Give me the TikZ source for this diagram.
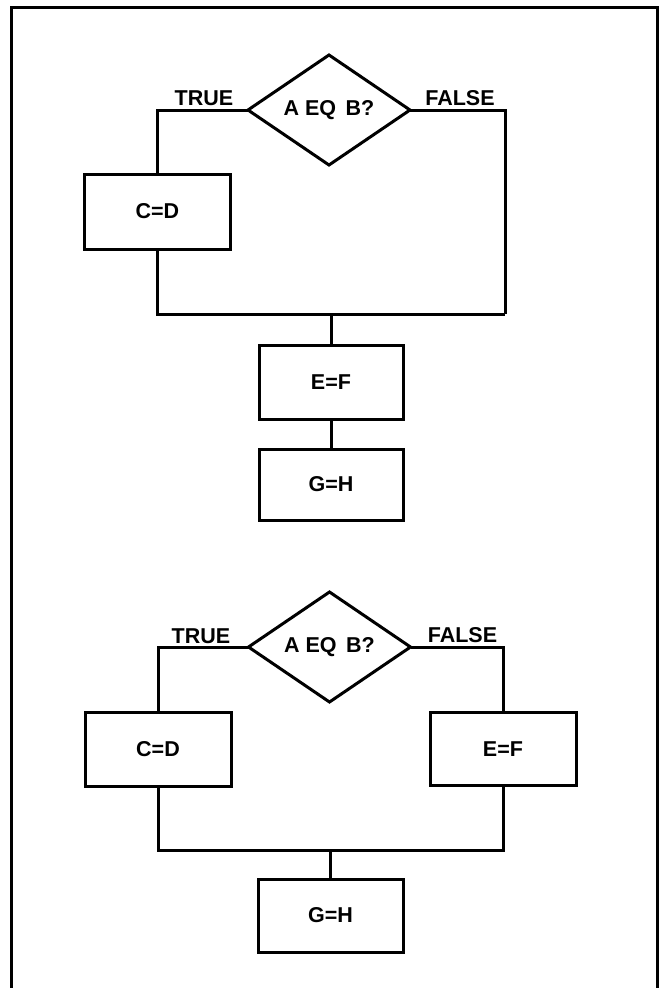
\documentclass[tikz,border=0pt]{standalone}
\usepackage{fontspec}
\setmainfont{Liberation Sans}
\usetikzlibrary{shapes.geometric}
\begin{document}
\begin{tikzpicture}[x=1pt,y=-1pt,
  line width=3pt, line join=miter,
  txt/.style={font=\fontsize{21.5}{25}\selectfont\bfseries},
  boxnode/.style={draw, rectangle, txt, inner sep=0pt, outer sep=0pt},
  decision/.style={draw, diamond, txt, inner sep=0pt, outer sep=0pt,
                   minimum width=162pt, minimum height=110pt},
  lbl/.style={txt, anchor=base, inner sep=0pt}]
\useasboundingbox (0,0) rectangle (660,988);
% frame
\coordinate (fa) at (11,988);
\coordinate (fb) at (11,7);
\coordinate (fc) at (657,7);
\coordinate (fd) at (657,988);
\draw (fa) -- (fb) -- (fc) -- (fd);

% ---------- upper diagram ----------
\node[decision] (d1) at (329,110) {A EQ\, B?};
\node[boxnode, minimum width=146.7pt, minimum height=75pt] (c1) at (157.4,211.5) {\raisebox{-3pt}{C=D}};
\node[boxnode, minimum width=144pt, minimum height=74pt] (e1) at (331,382) {\raisebox{-3pt}{E=F}};
\node[boxnode, minimum width=144pt, minimum height=71pt] (g1) at (331,484.5) {\raisebox{-2pt}{G=H}};
\node[lbl] (t1) at (204,105) {TRUE};
\node[lbl] (f1) at (460,105) {FALSE};
\coordinate (r1) at (505,314);
\draw (d1.west) -| (c1.north);
\draw (d1.east) -| (r1);
\draw (c1.south) |- (r1);
\draw (e1.north |- r1) -- (e1.north);
\draw (e1.south) -- (g1.north);

% ---------- lower diagram ----------
\node[decision] (d2) at (329.5,647) {A EQ\, B?};
\node[boxnode, minimum width=146pt, minimum height=74pt] (c2) at (158,749) {C=D};
\node[boxnode, minimum width=146pt, minimum height=73pt] (e2) at (503,749) {E=F};
\node[boxnode, minimum width=145pt, minimum height=73pt] (g2) at (330.5,915.5) {G=H};
\node[lbl] (t2) at (201,643) {TRUE};
\node[lbl] (f2) at (462.5,642) {FALSE};
\coordinate (m2) at (330.5,850);
\draw (d2.west) -| (c2.north);
\draw (d2.east) -| (e2.north);
\draw (c2.south) |- (m2) -| (e2.south);
\draw (m2) -- (g2.north);
\end{tikzpicture}
\end{document}
